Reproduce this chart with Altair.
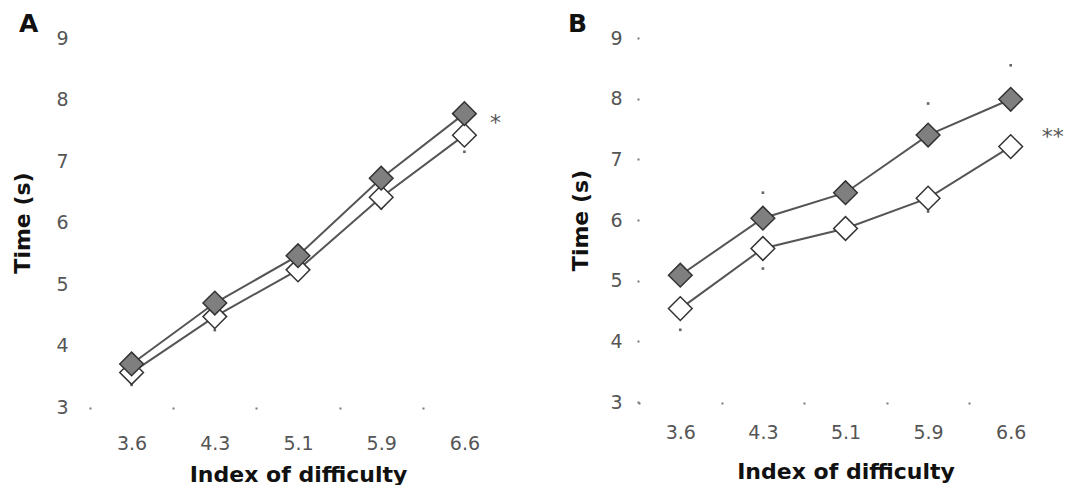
import altair as alt
import pandas as pd

categories = ["3.6", "4.3", "5.1", "5.9", "6.6"]

# Panel A
a_filled = [3.70, 4.69, 5.46, 6.72, 7.77]
a_filled_hi = [3.82, 4.82, 5.58, 6.86, 7.92]
a_open = [3.56, 4.47, 5.23, 6.41, 7.42]
a_open_lo = [3.36, 4.25, 5.07, 6.23, 7.15]
a_star = "*"
a_star_y = 7.62

# Panel B
b_filled = [5.09, 6.03, 6.45, 7.40, 7.99]
b_filled_hi = [5.22, 6.45, 6.60, 7.92, 8.55]
b_open = [4.54, 5.53, 5.86, 6.36, 7.21]
b_open_lo = [4.19, 5.20, 5.72, 6.14, 7.05]
b_star = "**"
b_star_y = 7.37

y_ticks = [3, 4, 5, 6, 7, 8, 9]

FONT = "DejaVu Sans"


def panel(letter, filled, filled_hi, opened, opened_lo, star, star_y, star_dx,
          w, h, ylabpad, ytitlepad, xlabpad, xtitlepad, ytick_op, title_dx):
    rows = []
    for c, v in zip(categories, opened):
        rows.append({"idx": c, "time": v, "cond": "open"})
    for c, v in zip(categories, filled):
        rows.append({"idx": c, "time": v, "cond": "filled"})
    df = pd.DataFrame(rows)

    err_rows = []
    for c, v in zip(categories, filled_hi):
        err_rows.append({"idx": c, "err": v})
    for c, v in zip(categories, opened_lo):
        err_rows.append({"idx": c, "err": v})
    err = pd.DataFrame(err_rows)

    star_df = pd.DataFrame({"idx": [categories[-1]], "time": [star_y], "txt": [star]})

    step = w / len(categories)
    x = alt.X(
        "idx:N", sort=categories,
        scale=alt.Scale(domain=categories, paddingInner=0, paddingOuter=0),
        axis=alt.Axis(
            title="Index of difficulty", labelAngle=0, labelAlign="center",
            domain=False, grid=False,
            tickOffset=-step / 2, labelOffset=step / 2,
            tickColor="#777", tickSize=2, tickWidth=2,
            labelFont=FONT, labelFontSize=19, labelColor="#555",
            labelPadding=xlabpad, titleFont=FONT, titleFontSize=22,
            titleFontWeight="bold", titleColor="#111", titlePadding=xtitlepad,
        ),
    )
    yscale = alt.Scale(domain=[3, 9], nice=False, zero=False)
    y = alt.Y(
        "time:Q", scale=yscale,
        axis=alt.Axis(
            title="Time (s)", values=y_ticks, format="d", domain=False, grid=False,
            tickColor="#777", tickSize=2, tickWidth=2, tickOpacity=ytick_op,
            labelFont=FONT, labelFontSize=19, labelColor="#555",
            labelPadding=ylabpad, titleFont=FONT, titleFontSize=22,
            titleFontWeight="bold", titleColor="#111", titlePadding=ytitlepad,
        ),
    )

    base = alt.Chart(df)
    lines = base.mark_line(color="#555", strokeWidth=2).encode(x=x, y=y, detail="cond:N")
    errs = alt.Chart(err).mark_square(size=7, color="#666", opacity=1).encode(
        x=alt.X("idx:N", sort=categories), y=alt.Y("err:Q", scale=yscale)
    )
    pts = base.mark_point(shape="diamond", filled=True, size=560, stroke="#333",
                          strokeWidth=1.5, opacity=1).encode(
        x=alt.X("idx:N", sort=categories),
        y=alt.Y("time:Q", scale=yscale),
        fill=alt.Fill("cond:N", scale=alt.Scale(domain=["open", "filled"],
                                                 range=["#ffffff", "#7f7f7f"]),
                      legend=None),
        order=alt.Order("ord:Q"),
    ).transform_calculate(ord="datum.cond == 'open' ? 0 : 1")
    stars = alt.Chart(star_df).mark_text(dx=star_dx, fontSize=22, font=FONT,
                                         color="#555").encode(
        x=alt.X("idx:N", sort=categories), y=alt.Y("time:Q", scale=yscale),
        text="txt:N",
    )
    return alt.layer(errs, lines, pts, stars).properties(
        width=w, height=h,
        title=alt.TitleParams(text=letter, anchor="start", font=FONT, fontSize=25,
                              fontWeight="bold", color="#111", dx=title_dx, offset=-8),
    )


pa = panel("A", a_filled, a_filled_hi, a_open, a_open_lo, a_star, a_star_y, 31,
           416, 369, 20, 21, 34, 11, 0, 7)
pb = panel("B", b_filled, b_filled_hi, b_open, b_open_lo, b_star, b_star_y, 42,
           413, 364, 15, 17, 28, 19, 1, -2)

chart = alt.hconcat(pa, pb, spacing=61).properties(
    padding={"left": 11, "top": 12, "right": 0, "bottom": 0}
).configure_view(stroke=None)

chart.save("out.html", embed_options={"renderer": "svg", "actions": False})
